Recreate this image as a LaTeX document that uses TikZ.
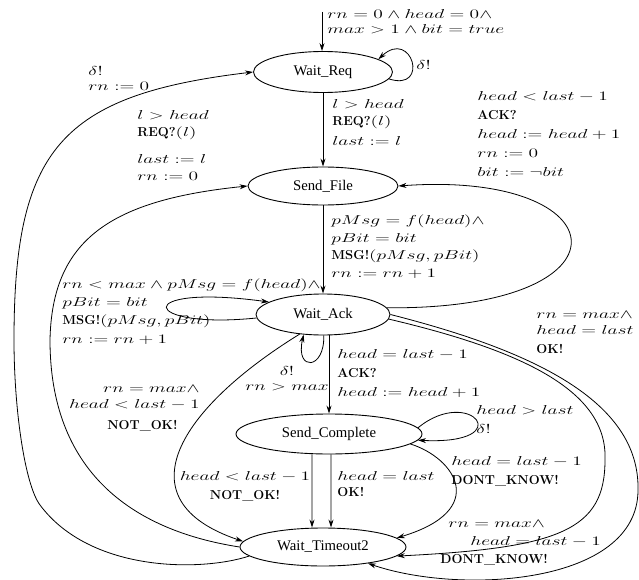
\RequirePackage{fix-cm}
\documentclass[tikz,border=0pt]{standalone}
\usepackage{amsmath}
\usepackage{amssymb}
\usepackage{fontspec}
\usepackage{graphicx}
\usepackage{tikz}
\usetikzlibrary{arrows.meta,shapes.geometric}
\newfontfamily\locfont{Liberation Serif}
\newcommand{\mth}[1]{\scalebox{1.5}[1]{$#1$}}
\tikzset{locnode/.style={draw,ellipse,line width=0.9bp,inner sep=0pt,font=\locfont\fontsize{14.8}{17}\selectfont},
  edgelbl/.style={align=left,anchor=north west,inner sep=0pt,font=\fontsize{13}{17}\selectfont}}

\begin{document}
\begin{tikzpicture}[x=1bp,y=-1bp,>={Stealth[length=8bp,width=5bp]},line width=0.8bp]
    \useasboundingbox (0,0) rectangle (639,580);

    % locations
    \node[locnode,minimum width=139bp,minimum height=41bp] (waitreq) at (323,72) {Wait\_Req};
    \node[locnode,minimum width=150bp,minimum height=38bp] (sendfile) at (323,186) {Send\_File};
    \node[locnode,minimum width=134bp,minimum height=41bp] (waitack) at (323,314.5) {Wait\_Ack};
    \node[locnode,minimum width=186bp,minimum height=40bp] (sendcomplete) at (329,434) {Send\_Complete};
    \node[locnode,minimum width=166bp,minimum height=38bp] (waittimeout) at (323,547) {Wait\_Timeout2};

    % initial location
    \coordinate (init) at (322,12);
    \draw[->] (init) -- (init |- waitreq.north);
    \node[edgelbl,font=\fontsize{13}{15}\selectfont] (lblinit) at (327,9) {\mth{rn = 0 \wedge head = 0 \wedge}\\ \mth{max > 1 \wedge bit = true}};

    % Wait_Req
    \draw[->] (waitreq.-6) .. controls (430,92) and (412,28) .. (waitreq.13);
    \node[edgelbl] (lblloopreq) at (416,60) {\mth{\delta!}};
    \draw[->] (waitreq) -- (sendfile);
    \node[edgelbl] (lblreq) at (332,99) {\mth{l > head}\\ \textbf{REQ?}\mth{(l)}\\[3pt] \mth{last := l}};

    % back from Wait_Timeout2
    \draw[->] (waittimeout.187) .. controls (200,572) and (90,572) .. (40,505)
      .. controls (25,485) and (14,410) .. (14,340)
      .. controls (14,150) and (60,95) .. (waitreq.west);
    \node[edgelbl,font=\fontsize{13}{15}\selectfont] (lblreset) at (88,66) {\mth{\delta!}\\ \mth{rn := 0}};
    \draw[->] (waittimeout.west) .. controls (130,530) and (50,470) .. (50,340)
      .. controls (52,240) and (110,200) .. (sendfile.west);
    \node[edgelbl] (lblreqto) at (137,110) {\mth{l > head}\\ \textbf{REQ?}\mth{(l)}\\[10pt] \mth{last := l}\\ \mth{rn := 0}};

    % Send_File and Wait_Ack
    \draw[->] (sendfile) -- (waitack);
    \node[edgelbl,font=\fontsize{13}{18}\selectfont] (lblmsg) at (331,214) {\mth{pMsg = f(head)\wedge}\\ \mth{pBit = bit}\\ \textbf{MSG!}\mth{(pMsg, pBit)}\\ \mth{rn := rn + 1}};
    \draw[->] (waitack.6) .. controls (640,310) and (620,170) .. (sendfile.east);
    \node[edgelbl,font=\fontsize{13}{19}\selectfont] (lblack) at (477,91) {\mth{head < last - 1}\\ \textbf{ACK?}\\ \mth{head := head + 1}\\ \mth{rn := 0}\\ \mth{bit := \neg bit}};
    \draw[->] (waitack.183) .. controls (140,330) and (130,283) .. (waitack.167);
    \node[edgelbl,font=\fontsize{13}{18.5}\selectfont] (lblresend) at (62,278) {\mth{rn < max \wedge pMsg = f(head)\wedge}\\ \mth{pBit = bit}\\ \textbf{MSG!}\mth{(pMsg, pBit)}\\ \mth{rn := rn + 1}};
    \draw[->] (waitack.-88) .. controls (325,370) and (295,372) .. (waitack.-134);
    \node[edgelbl,align=center,anchor=north,font=\fontsize{13}{15}\selectfont] (lbltimer) at (287,366) {\mth{\delta!}\\ \mth{rn > max}};
    \draw[->] (waitack.-140) .. controls (180,408) and (120,500) .. (waittimeout.176);
    \node[edgelbl,align=right,anchor=north east,font=\fontsize{13}{16}\selectfont] (lblnotok) at (200,385) {\mth{rn = max\wedge}\\ \mth{head < last - 1}\\[5pt] \textbf{NOT\_OK!}\hspace*{22bp}};

    % Wait_Ack to Send_Complete
    \draw[->] (waitack.south -| sendcomplete.north) -- (sendcomplete.north);
    \node[edgelbl,font=\fontsize{13}{19}\selectfont] (lbllast) at (337,349) {\mth{head = last - 1}\\ \textbf{ACK?}\\ \mth{head := head + 1}};
    \draw[->] (sendcomplete.4) .. controls (470,385) and (520,445) .. (sendcomplete.-4);
    \node[edgelbl,font=\fontsize{13}{19}\selectfont] (lblidle) at (476,405) {\mth{head > last}\\ \mth{\delta!}};

    % Send_Complete to Wait_Timeout2
    \draw[->] ([xshift=-17bp]sendcomplete.south) -- ([xshift=-11bp]waittimeout.north);
    \node[edgelbl,align=center,anchor=north,font=\fontsize{13}{19}\selectfont] (lblfail) at (245,471) {\mth{head < last - 1}\\ \textbf{NOT\_OK!}};
    \draw[->] ([xshift=2bp]sendcomplete.south) -- ([xshift=8bp]waittimeout.north);
    \node[edgelbl,font=\fontsize{13}{16}\selectfont] (lbldone) at (337,471) {\mth{head = last}\\ \textbf{OK!}};
    \draw[->] (sendcomplete.-7) .. controls (455,458) and (490,510) .. (waittimeout.7);
    \node[edgelbl,font=\fontsize{13}{19}\selectfont] (lblunsure) at (451,456) {\mth{head = last - 1}\\ \textbf{DONT\_KNOW!}};

    % Wait_Ack to Wait_Timeout2
    \draw[->] (waitack.-4) .. controls (520,350) and (608,390) .. (605,460)
      .. controls (605,530) and (560,548) .. (waittimeout.-7);
    \node[edgelbl,font=\fontsize{13}{18}\selectfont] (lblmaxunsure) at (440,520) {\hspace*{8bp}\mth{rn = max\wedge}\\ \hspace*{30bp}\mth{head = last - 1}\\ \textbf{DONT\_KNOW!}};
    \draw[->] (waitack.0) .. controls (530,350) and (640,400) .. (638,490)
      .. controls (638,585) and (460,595) .. (waittimeout.-20);
    \node[edgelbl,font=\fontsize{13}{16}\selectfont] (lblmaxok) at (536,311) {\mth{rn = max\wedge}\\ \mth{head = last}\\[3pt] \textbf{OK!}};
  \end{tikzpicture}
\end{document}
